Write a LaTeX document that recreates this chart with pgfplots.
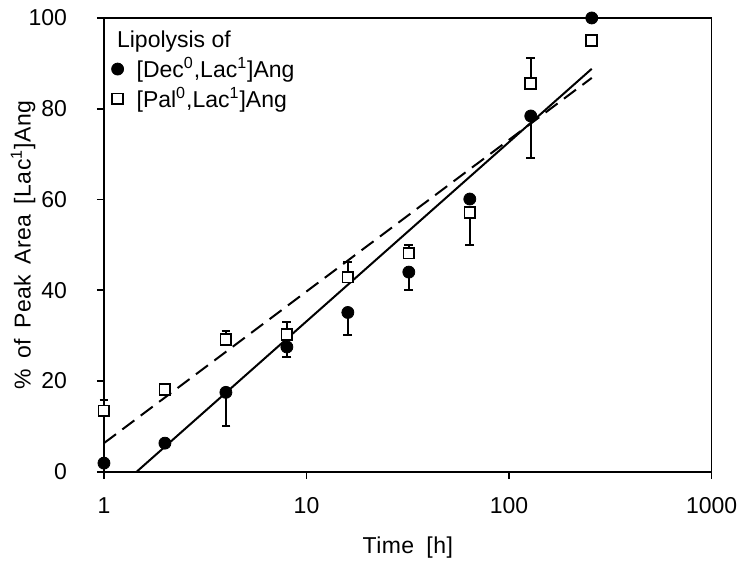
\documentclass[border=0pt]{standalone}
\usepackage{pgfplots}
\pgfplotsset{compat=1.18}
\usepackage{fontspec}
\setmainfont{Liberation Sans}
\newfontfamily\labelfont[LetterSpace=2, WordSpace=1.5]{Liberation Sans}

\begin{document}
\begin{tikzpicture}
\begin{axis}[
    name=ax,
    scale only axis,
    width=304pt, height=227pt,
    xmode=log,
    xmin=1, xmax=1000, ymin=0, ymax=100,
    xtick={1,10,100,1000}, xticklabels={1,10,100,1000},
    ytick={0,20,40,60,80,100},
    /pgf/number format/assume math mode=true,
    xminorticks=false,
    tick align=outside,
    xtick pos=left, ytick pos=left,
    major tick length=3.5pt,
    axis line style={line width=0.8pt},
    every tick/.style={black, line width=0.8pt},
    tick label style={font=\fontsize{11.5}{13}\selectfont},
    xticklabel style={yshift=-6pt},
    yticklabel style={xshift=-11.5pt},
    label style={font=\fontsize{11.5}{13}\selectfont\labelfont},
    xlabel={Time\hspace{1pt} [h]},
    ylabel={\% of Peak Area [Lac\textsuperscript{1}]Ang},
    xlabel style={at={(axis description cs:0.5,-0.1674)}, anchor=center},
    ylabel style={at={(axis description cs:-0.1332,0.5)}, anchor=center},
    clip=false,
    legend image code/.code={\draw[#1, mark repeat=1] plot coordinates {(0pt,0pt)};},
    legend style={at={(rel axis cs:0.012,0.918)}, anchor=north west,
        draw=none, fill=none, font=\fontsize{11.5}{13}\selectfont,
        row sep=1.5pt, inner sep=0pt,
        nodes={inner xsep=2pt, inner ysep=1pt},
        /tikz/every odd column/.append style={column sep=4.5pt}},
    legend cell align=left,
]
% [Dec0,Lac1]Ang
\addplot[only marks, black, mark=*, mark size=3pt,
    error bars/.cd, y dir=both, y explicit,
    error bar style={line width=1pt},
    error mark options={rotate=90, mark size=2.2pt, line width=1pt}]
coordinates {
    (1,1.9) (2,6.3)
    (4,17.5) -= (0,7.5)
    (8,27.5) -= (0,2.3)
    (16,35.1) -= (0,4.9)
    (32,44.0) -= (0,3.9)
    (64,60.1)
    (128,78.4) -= (0,9.2)
    (256,100)
};
\addlegendentry{[Dec\textsuperscript{0},Lac\textsuperscript{1}]Ang}
% [Pal0,Lac1]Ang
\addplot[only marks, black, mark=square*, mark size=2.7pt,
    mark options={fill=white, line width=0.9pt},
    error bars/.cd, y dir=both, y explicit,
    error bar style={line width=1pt},
    error mark options={rotate=90, mark size=2.2pt, line width=1pt}]
coordinates {
    (1,13.4) += (0,2.5)
    (2,18.1)
    (4,29.2) += (0,1.9)
    (8,30.2) += (0,2.9)
    (16,42.9) += (0,3.4)
    (32,48.2) += (0,1.8)
    (64,57.1) -= (0,7.1)
    (128,85.6) += (0,5.5)
    (256,95.0)
};
\addlegendentry{[Pal\textsuperscript{0},Lac\textsuperscript{1}]Ang}
% regression lines
\addplot[black, line width=1pt, forget plot] coordinates {(1.45,0) (256,88.8)};
\addplot[black, line width=1pt, dash pattern=on 7.5pt off 4pt, forget plot] coordinates {(1,6.3) (256,86.8)};
\node[anchor=west, inner sep=0pt, font=\fontsize{11.5}{13}\selectfont] at (rel axis cs:0.021,0.949) {Lipolysis of};
\end{axis}
\pgfresetboundingbox
\path ([xshift=-52pt,yshift=-47pt]ax.south west) rectangle ([xshift=13.7pt,yshift=9pt]ax.north east);
\end{tikzpicture}
\end{document}
